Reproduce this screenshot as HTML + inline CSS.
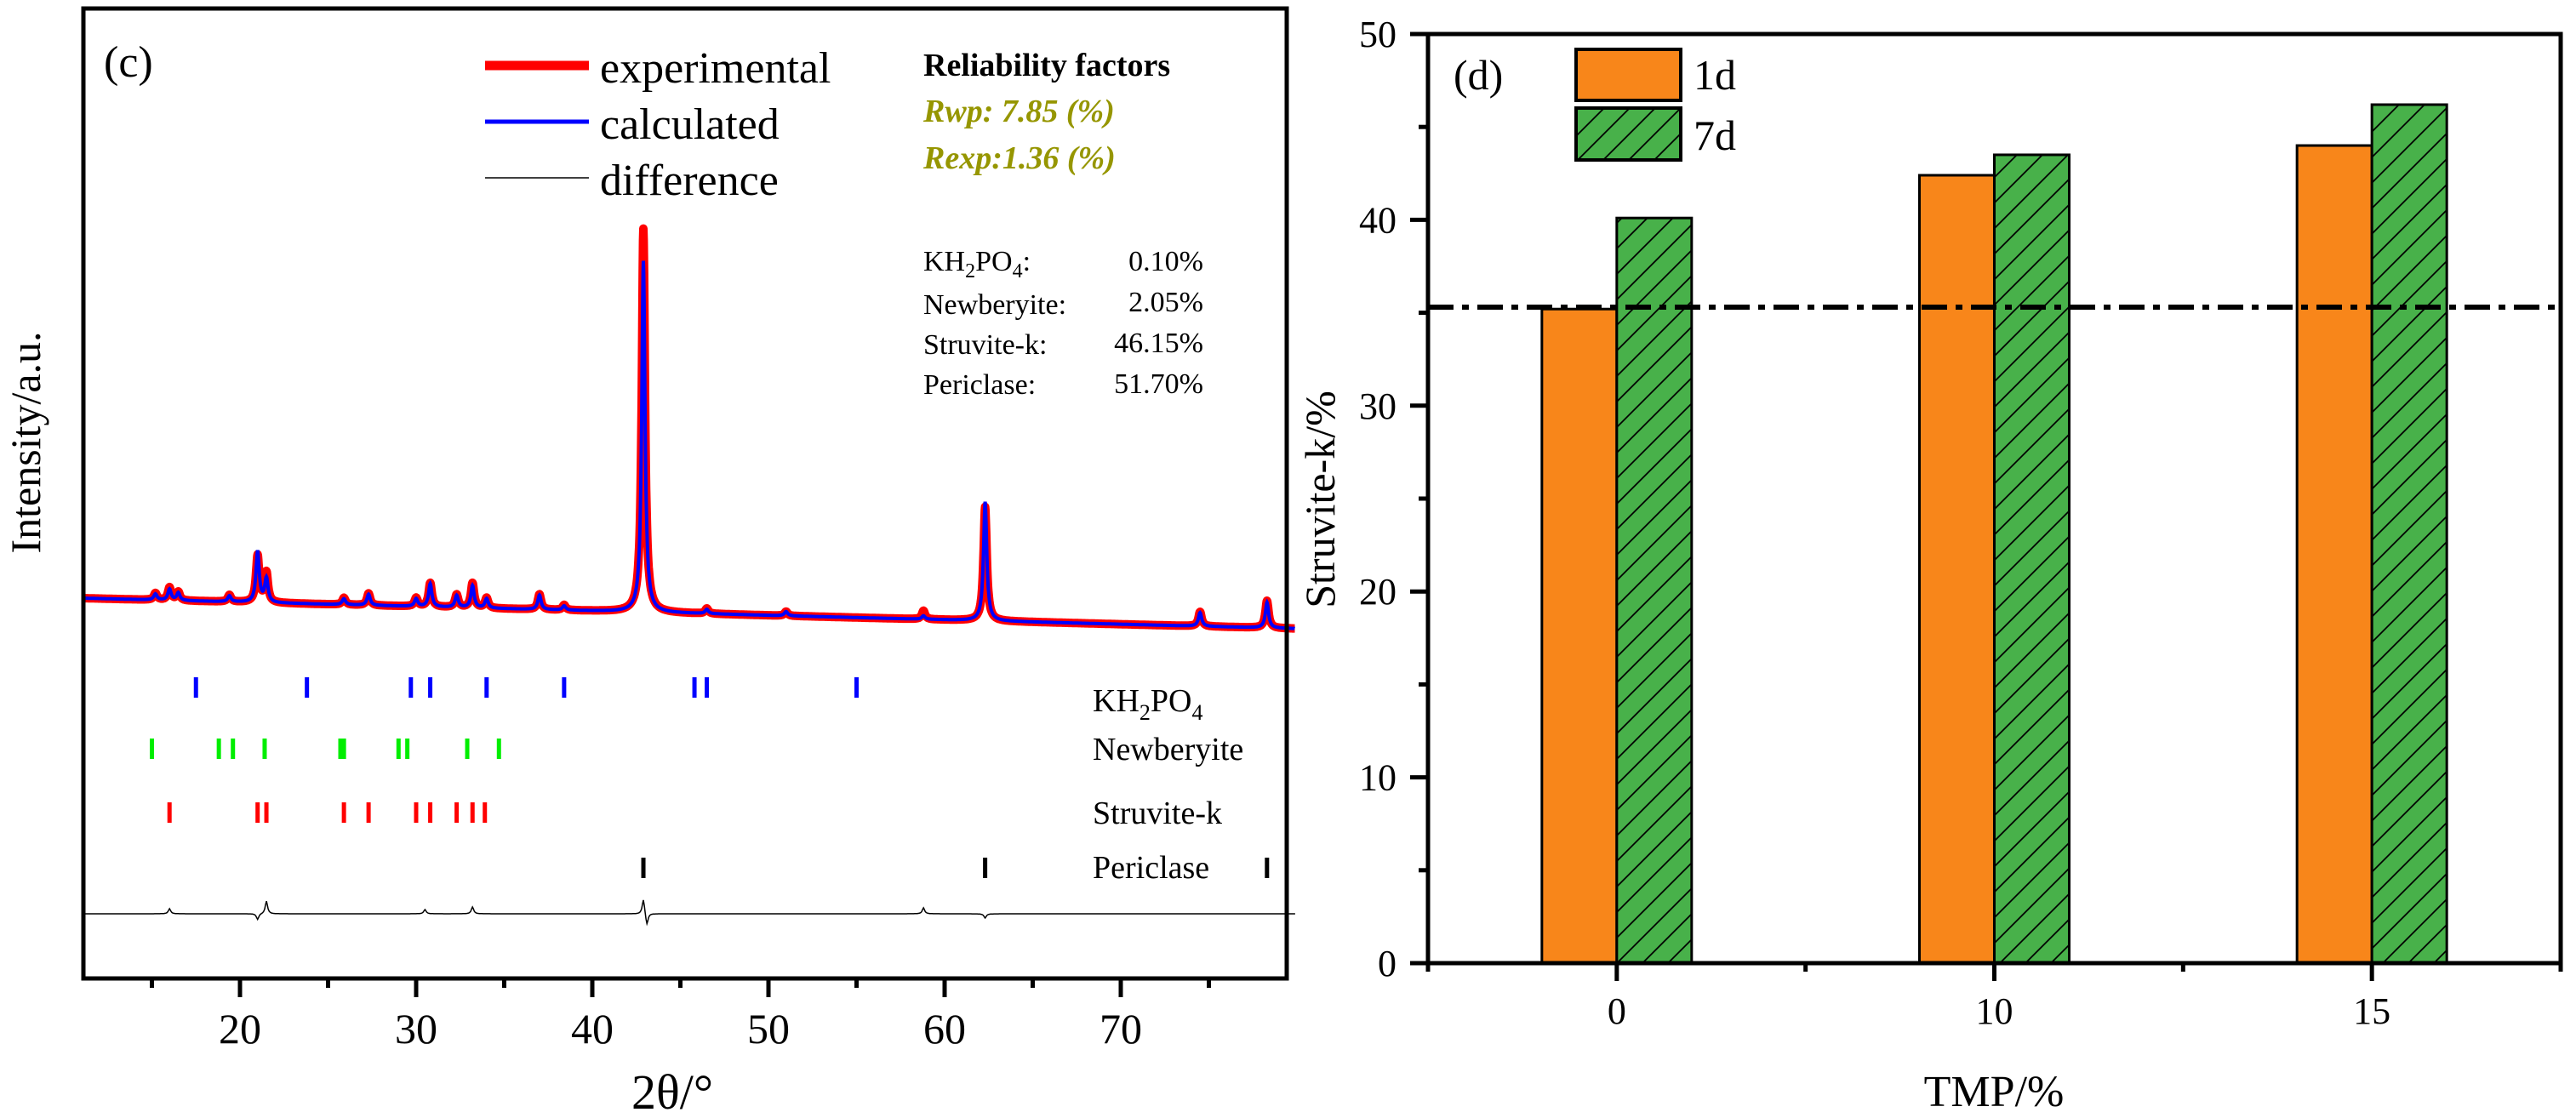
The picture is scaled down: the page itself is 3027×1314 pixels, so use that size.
<!DOCTYPE html>
<html><head><meta charset="utf-8"><style>
html,body{margin:0;padding:0;background:#fff;}
svg{display:block;font-family:"Liberation Serif",serif;}
</style></head><body>
<svg id="chart" width="3027" height="1314" viewBox="0 0 3027 1314" xmlns="http://www.w3.org/2000/svg">
<defs>
<pattern id="hatch" patternUnits="userSpaceOnUse" width="30" height="30" patternTransform="skewX(-45)">
<rect width="30" height="30" fill="#48b14a"/>
<line x1="2" y1="0" x2="2" y2="30" stroke="#000" stroke-width="2.5"/>
</pattern>
</defs>
<g id="left"></g>
<g id="right"></g>
</svg>
<script>
// ---------- XRD panel data ----------
const peakPos  = [15.2,16.0,16.5,19.4,21.0,21.5,25.9,27.3,30.0,30.8,32.3,33.2,34.0,37.0,38.4,42.9,46.5,51.0,58.8,62.3,74.5,78.3];
const peakExp  = [8,15,10,8,55,35,8,14,10,28,15,29,12,18,6,451,6,5,10,134,17,32];
const peakCalc = [7,13,9,7,60,28,7,13,9,27,14,26,11,17,5,413,5,5,4,140,16,30];
const diffPos  = [16.0,21.0,21.5,30.5,33.2,42.9,43.1,58.8,62.3];
const diffAmp  = [6,-7,15,5,8,18,-14,7,-5];
const kh2po4Ticks = [17.5,23.8,29.7,30.8,34.0,38.4,45.8,46.5,55.0];
const newberyiteTicks = [15.0,18.8,19.6,21.4,25.7,25.9,29.0,29.5,32.9,34.7];
const struviteTicks = [16.0,21.0,21.5,25.9,27.3,30.0,30.8,32.3,33.2,33.9];
const periclaseTicks = [42.9,62.3,78.3];
const xTickLabels = [20,30,40,50,60,70];
const phaseNames = ["Newberyite:","Struvite-k:","Periclase:"];
const phaseValues = ["0.10%","2.05%","46.15%","51.70%"];
// ---------- Bar panel data ----------
const categories = ["0","10","15"];
const series1d = [35.2,42.4,44.0];
const series7d = [40.1,43.5,46.2];
const refLine = 35.3;
const yTicks = [0,10,20,30,40,50];

const NS="http://www.w3.org/2000/svg";
function mk(parent,tag,attrs,text){const e=document.createElementNS(NS,tag);for(const k in attrs)e.setAttribute(k,attrs[k]);if(text!==undefined)e.textContent=text;parent.appendChild(e);return e;}

// ===== Left panel =====
const L=document.getElementById('left');
const xL=98,xR=1512,yT=10,yB=1150;
const X=v=>282+(v-20)*20.7;
const xmin=11.1,xmax=79.9;
const base=v=>703+(v-11)*0.52;
function prof(pos,amp,w,v){let s=0;for(let i=0;i<pos.length;i++){const d=v-pos[i];s+=amp[i]*w*w/(d*d+w*w);}return s;}
function curve(amp){let d="";for(let v=xmin;v<=xmax;v+=0.02){const y=base(v)-prof(peakPos,amp,0.11,v);d+=(d?"L":"M")+X(v).toFixed(1)+","+y.toFixed(1);}return d;}
let p=mk(L,'path',{d:curve(peakExp),fill:'none',stroke:'#ff0000','stroke-width':10,'stroke-linejoin':'round'});


p=mk(L,'path',{d:curve(peakCalc),fill:'none',stroke:'#0000ff','stroke-width':4});


let dd="";for(let v=xmin;v<=xmax;v+=0.05){const y=1074-prof(diffPos,diffAmp,0.08,v);dd+=(dd?"L":"M")+X(v).toFixed(1)+","+y.toFixed(1);}
p=mk(L,'path',{d:dd,fill:'none',stroke:'#000','stroke-width':1.5});


// stick rows
const rows=[[kh2po4Ticks,'#0000ff',808,'kh2po4'],[newberyiteTicks,'#00ee00',880,'newberyite'],[struviteTicks,'#ff0000',955,'struvite-k'],[periclaseTicks,'#000',1020,'periclase']];
rows.forEach(r=>{r[0].forEach(v=>{const t=mk(L,'line',{x1:X(v),x2:X(v),y1:r[2]-12,y2:r[2]+12,stroke:r[1],'stroke-width':5});

});});
// row labels
let t=mk(L,'text',{x:1284,y:836,'font-size':38});t.innerHTML='KH<tspan font-size="26" dy="10">2</tspan><tspan dy="-10">PO</tspan><tspan font-size="26" dy="10">4</tspan>';

[['Newberyite',893,'newberyite-row-label'],['Struvite-k',968,'struvite-row-label'],['Periclase',1032,'periclase-row-label']].forEach(a=>{const e=mk(L,'text',{x:1284,y:a[1],'font-size':38},a[0]);
});
// frame
p=mk(L,'rect',{x:xL,y:yT,width:xR-xL,height:yB-yT,fill:'none',stroke:'#000','stroke-width':5});

for(let v=15;v<=75;v+=10){const e=mk(L,'line',{x1:X(v),x2:X(v),y1:yB,y2:yB+11,stroke:'#000','stroke-width':5});}
xTickLabels.forEach(v=>{const e=mk(L,'line',{x1:X(v),x2:X(v),y1:yB,y2:yB+22,stroke:'#000','stroke-width':5});
const l=mk(L,'text',{x:X(v),y:1226,'font-size':50,'text-anchor':'middle'},String(v));});
t=mk(L,'text',{x:790,y:1303,'font-size':58,'text-anchor':'middle'},'2θ/°');
t=mk(L,'text',{x:0,y:0,'font-size':50,'text-anchor':'middle',transform:'translate(47,520) rotate(-90)'},'Intensity/a.u.');
t=mk(L,'text',{x:122,y:90,'font-size':52},'(c)');
// legend
[['experimental','#ff0000',11,77,97],['calculated','#0000ff',5,143,163],['difference','#000',1.5,209,229]].forEach(a=>{
const g=mk(L,'g',{});
mk(g,'line',{x1:570,x2:692,y1:a[3],y2:a[3],stroke:a[1],'stroke-width':a[2]});
mk(g,'text',{x:705,y:a[4],'font-size':52},a[0]);});
t=mk(L,'text',{x:1085,y:89,'font-size':38,'font-weight':'bold'},'Reliability factors');
t=mk(L,'text',{x:1085,y:143,'font-size':38,'font-weight':'bold','font-style':'italic',fill:'#969600'},'Rwp: 7.85 (%)');
t=mk(L,'text',{x:1085,y:198,'font-size':38,'font-weight':'bold','font-style':'italic',fill:'#969600'},'Rexp:1.36 (%)');
t=mk(L,'text',{x:1085,y:318,'font-size':34});t.innerHTML='KH<tspan font-size="24" dy="8">2</tspan><tspan dy="-8">PO</tspan><tspan font-size="24" dy="8">4</tspan><tspan dy="-8">:</tspan>';

phaseNames.forEach((n,i)=>{const e=mk(L,'text',{x:1085,y:369+i*47,'font-size':34},n);});
phaseValues.forEach((n,i)=>{const e=mk(L,'text',{x:1414,y:318+i*48,'font-size':34,'text-anchor':'end'},n);});

// ===== Right panel =====
const R=document.getElementById('right');
const rL=1678,rR=3009,rT=40,rB=1132;
const Y=v=>rB-v*(rB-rT)/50;
const bw=(rR-rL)/categories.length;
const cx=i=>rL+bw*(i+0.5);
const barW=88;
categories.forEach((c,i)=>{
 const b1=mk(R,'rect',{x:cx(i)-barW,y:Y(series1d[i]),width:barW,height:rB-Y(series1d[i]),fill:'#f8861a',stroke:'#000','stroke-width':3});
 
 
 const b2=mk(R,'rect',{x:cx(i),y:Y(series7d[i]),width:barW,height:rB-Y(series7d[i]),fill:'url(#hatch)',stroke:'#000','stroke-width':3});
 
 
});
p=mk(R,'line',{x1:rL,x2:rR,y1:Y(refLine),y2:Y(refLine),stroke:'#000','stroke-width':6,'stroke-dasharray':'30 10 8 10'});

p=mk(R,'rect',{x:rL,y:rT,width:rR-rL,height:rB-rT,fill:'none',stroke:'#000','stroke-width':5});

yTicks.forEach(v=>{const e=mk(R,'line',{x1:rL-21,x2:rL,y1:Y(v),y2:Y(v),stroke:'#000','stroke-width':5});
const l=mk(R,'text',{x:1641,y:Y(v)+15,'font-size':44,'text-anchor':'end'},String(v));});
for(let v=5;v<50;v+=10){const e=mk(R,'line',{x1:rL-11,x2:rL,y1:Y(v),y2:Y(v),stroke:'#000','stroke-width':5});}
for(let i=0;i<=categories.length;i++){const e=mk(R,'line',{x1:rL+bw*i,x2:rL+bw*i,y1:rB,y2:rB+10,stroke:'#000','stroke-width':5});}
categories.forEach((c,i)=>{const e=mk(R,'line',{x1:cx(i),x2:cx(i),y1:rB,y2:rB+21,stroke:'#000','stroke-width':5});
const l=mk(R,'text',{x:cx(i),y:1203,'font-size':44,'text-anchor':'middle'},c);});
t=mk(R,'text',{x:2343,y:1300,'font-size':52,'text-anchor':'middle'},'TMP/%');
t=mk(R,'text',{x:0,y:0,'font-size':50,'text-anchor':'middle',transform:'translate(1568,587) rotate(-90)'},'Struvite-k/%');
t=mk(R,'text',{x:1708,y:105,'font-size':50},'(d)');
let g=mk(R,'g',{});
mk(g,'rect',{x:1852,y:58,width:123,height:60,fill:'#f8861a',stroke:'#000','stroke-width':4});
mk(g,'text',{x:1990,y:105,'font-size':50},'1d');
g=mk(R,'g',{});
mk(g,'rect',{x:1852,y:127,width:123,height:61,fill:'url(#hatch)',stroke:'#000','stroke-width':4});
mk(g,'text',{x:1990,y:176,'font-size':50},'7d');
</script>
</body></html>
